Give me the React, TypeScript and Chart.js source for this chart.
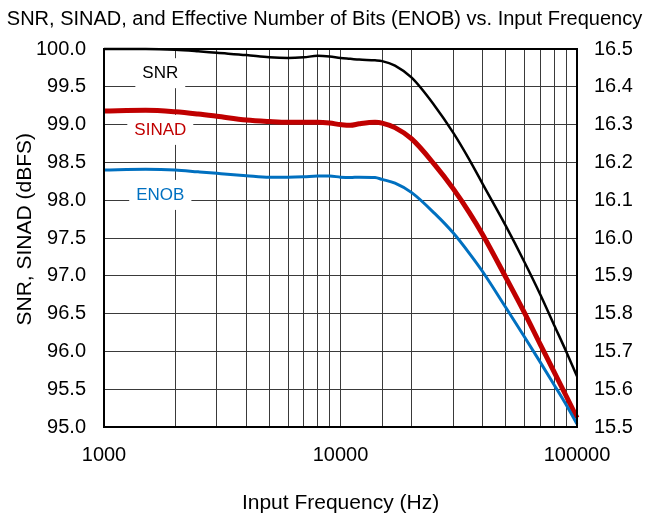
import React, { useEffect, useRef } from 'react';
import { Chart, registerables } from 'chart.js';

Chart.register(...registerables);

// Input frequency (Hz)
const frequencies = [
  1000, 1500, 2000, 2500, 3000, 4000, 5000, 6000, 7000, 8000, 9000, 10000,
  11000, 12000, 14000, 15000, 17000, 20000, 25000, 30000, 35000, 40000,
  50000, 60000, 70000, 80000, 90000, 100000,
];

// SNR (dBFS)
const snrValues = [
  100.0, 100.0, 99.99, 99.97, 99.95, 99.92, 99.89, 99.88, 99.89, 99.91, 99.9, 99.88,
  99.87, 99.86, 99.85, 99.84, 99.78, 99.62, 99.25, 98.89, 98.54, 98.21,
  97.66, 97.18, 96.75, 96.35, 96.0, 95.67,
];

// SINAD (dBFS)
const sinadValues = [
  99.18, 99.19, 99.17, 99.14, 99.11, 99.06, 99.04, 99.03, 99.03, 99.03, 99.02, 99.0,
  98.99, 99.01, 99.03, 99.02, 98.96, 98.81, 98.47, 98.15, 97.84, 97.54,
  96.98, 96.51, 96.09, 95.73, 95.41, 95.12,
];

// ENOB (bits)
const enobValues = [
  16.18, 16.182, 16.18, 16.175, 16.171, 16.165, 16.161, 16.161, 16.162, 16.164, 16.164, 16.161,
  16.16, 16.161, 16.16, 16.155, 16.145, 16.12, 16.065, 16.013, 15.96, 15.91,
  15.816, 15.738, 15.671, 15.612, 15.559, 15.508,
];

const xTickValues = [1000, 10000, 100000];
const xTickLabels = ['1000', '10000', '100000'];

const seriesNames = ['SNR', 'SINAD', 'ENOB'];
// in-plot label anchors (frequency, dBFS)
const labelFreqs = [1730, 1730, 1730];
const labelLevels = [99.68, 98.93, 98.07];

const FONT = '"Liberation Sans", Arial, sans-serif';
const COLORS = ['#000000', '#C00000', '#0070C0'];

export default function App() {
  const canvasRef = useRef<HTMLCanvasElement>(null);

  useEffect(() => {
    document.body.style.margin = '0';
    const canvas = canvasRef.current;
    if (!canvas) return;

    const overlay = {
      id: 'overlay',
      beforeDatasetsDraw(chart: any) {
        const { ctx } = chart;
        const xs = chart.scales.x;
        const ys = chart.scales.y;
        ctx.save();
        ctx.font = `17px ${FONT}`;
        ctx.textAlign = 'center';
        ctx.textBaseline = 'middle';
        seriesNames.forEach((name, i) => {
          const px = xs.getPixelForValue(labelFreqs[i]);
          const py = ys.getPixelForValue(labelLevels[i]);
          const w = ctx.measureText(name).width + 14;
          ctx.fillStyle = '#ffffff';
          ctx.fillRect(px - w / 2, py - 15, w, 30);
          ctx.fillStyle = COLORS[i];
          ctx.fillText(name, px, py);
        });
        ctx.restore();
      },
      afterDatasetsDraw(chart: any) {
        const { ctx, chartArea } = chart;
        ctx.save();
        ctx.strokeStyle = '#000';
        ctx.lineWidth = 2;
        ctx.strokeRect(chartArea.left, chartArea.top, chartArea.right - chartArea.left, chartArea.bottom - chartArea.top);
        ctx.restore();
      },
    };

    const toPts = (vals: number[]) => frequencies.map((f, i) => ({ x: f, y: vals[i] }));

    const chart = new Chart(canvas, {
      type: 'line',
      data: {
        datasets: [
          {
            label: 'ENOB',
            data: toPts(enobValues),
            yAxisID: 'y1',
            borderColor: COLORS[2],
            borderWidth: 3,
            pointRadius: 0,
            cubicInterpolationMode: 'monotone',
            clip: false,
          },
          {
            label: 'SINAD',
            data: toPts(sinadValues),
            yAxisID: 'y',
            borderColor: COLORS[1],
            borderWidth: 5,
            pointRadius: 0,
            cubicInterpolationMode: 'monotone',
            clip: false,
          },
          {
            label: 'SNR',
            data: toPts(snrValues),
            yAxisID: 'y',
            borderColor: COLORS[0],
            borderWidth: 2.5,
            pointRadius: 0,
            cubicInterpolationMode: 'monotone',
            clip: false,
          },
        ],
      },
      options: {
        responsive: false,
        animation: false,
        devicePixelRatio: 1,
        layout: { padding: 0 },
        plugins: {
          legend: { display: false },
          tooltip: { enabled: false },
          title: {
            display: true,
            text: 'SNR, SINAD, and Effective Number of Bits (ENOB) vs. Input Frequency',
            color: '#000',
            font: { family: FONT, size: 20, weight: 'normal', lineHeight: 1.2 },
            padding: { top: 7, bottom: 18 },
          },
        },
        scales: {
          x: {
            type: 'logarithmic',
            min: 1000,
            max: 100000,
            border: { display: false },
            grid: { color: '#3a3a3a', lineWidth: 1, drawTicks: false },
            ticks: {
              autoSkip: false,
              maxRotation: 0,
              padding: 16,
              color: '#000',
              font: { family: FONT, size: 20, lineHeight: 1.2 },
              callback: (value: any) => {
                const idx = xTickValues.indexOf(Number(value));
                return idx >= 0 ? xTickLabels[idx] : '';
              },
            },
            title: {
              display: true,
              text: 'Input Frequency (Hz)',
              color: '#000',
              font: { family: FONT, size: 21, lineHeight: 1 },
              padding: { top: 0, bottom: 0 },
            },
            afterFit: (scale: any) => {
              scale.height = 87;
            },
          },
          y: {
            type: 'linear',
            position: 'left',
            min: 95,
            max: 100,
            border: { display: false },
            grid: { color: '#3a3a3a', lineWidth: 1, drawTicks: false },
            ticks: {
              stepSize: 0.5,
              padding: 18,
              color: '#000',
              font: { family: FONT, size: 20, lineHeight: 1.2 },
              callback: (v: any) => Number(v).toFixed(1),
            },
            title: {
              display: true,
              text: '   SNR, SINAD (dBFS)',
              color: '#000',
              font: { family: FONT, size: 21, lineHeight: 1.2 },
              padding: { top: 13, bottom: 0 },
            },
            afterFit: (scale: any) => {
              scale.width = 104;
            },
          },
          y1: {
            type: 'linear',
            position: 'right',
            min: 15.5,
            max: 16.5,
            border: { display: false },
            grid: { drawOnChartArea: false, drawTicks: false },
            ticks: {
              stepSize: 0.1,
              padding: 17,
              color: '#000',
              font: { family: FONT, size: 20, lineHeight: 1.2 },
              callback: (v: any) => Number(v).toFixed(1),
            },
            afterFit: (scale: any) => {
              scale.width = 72;
            },
          },
        },
      },
      plugins: [overlay],
    } as any);

    return () => chart.destroy();
  }, []);

  return (
    <div style={{ width: 649, height: 514 }}>
      <canvas ref={canvasRef} width={649} height={514} style={{ display: 'block' }} />
    </div>
  );
}
